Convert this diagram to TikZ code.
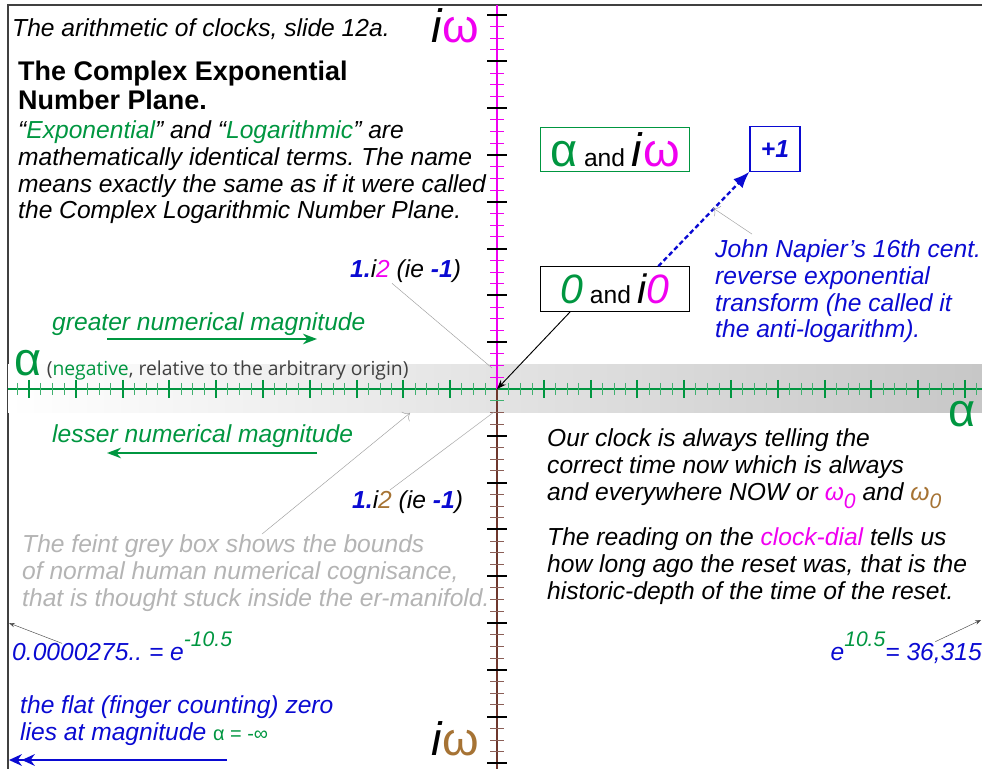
\documentclass[tikz,border=0pt]{standalone}
\usepackage{fontspec}
\setmainfont{Liberation Sans}
\newfontfamily\notefont{Open Sans}
\usepackage{xcolor}
\usepackage{tikz}
\usetikzlibrary{positioning}
\usetikzlibrary{arrows.meta}

\definecolor{clkgreen}{RGB}{0,150,64}
\definecolor{clkmagenta}{RGB}{240,0,240}
\definecolor{clkbrown}{RGB}{166,115,52}
\definecolor{axisbrown}{RGB}{110,55,45}
\definecolor{clkblue}{RGB}{10,10,210}
\definecolor{feintgrey}{RGB}{180,180,180}
\definecolor{notegrey}{RGB}{64,64,64}

\newcommand{\slidefont}{\fontsize{21}{23}\selectfont}
\newcommand{\titlefont}{\fontsize{23}{25.6}\selectfont\bfseries}
\newcommand{\bigfont}{\fontsize{40}{40}\selectfont}
\newcommand{\midfont}{\fontsize{35}{35}\selectfont}
\newcommand{\expfont}{\fontsize{18}{18}\selectfont}

\frenchspacing
\begin{document}
\begin{tikzpicture}[
    x=0.03cm, y=-0.03cm,
    every node/.style={inner sep=0pt},
    slidetext/.style={font=\slidefont\itshape, align=left, anchor=base west},
    pointer/.style={draw=gray!75, line width=0.4pt},
    minortick/.style={line width=0.8pt},
    majortick/.style={line width=1.6pt},
    boxed/.style={draw, line width=1pt, font=\slidefont, minimum height=1.33cm, minimum width=4.45cm},
    bigsym/.style={font=\bigfont, anchor=base west}
]
    \useasboundingbox (0,0) rectangle (982,769);

    % Frame and grey band
    \draw[line width=1pt, black!75] (982,5) -- (8,5) -- (8,769);
    \shade[left color=white, right color=black!22] (8,365) rectangle (982,413);

    % Axes
    \coordinate (origin) at (497,389);
    \draw[clkgreen, line width=1.6pt] (8,389) -- (982,389);
    \foreach \i in {-41,...,41}
        \draw[minortick, clkgreen!75] ({497+11.7*\i},383) -- ++(0,12);
    \foreach \i in {-40,-36,...,40}
        \draw[majortick, clkgreen] ({497+11.7*\i},380) -- ++(0,18);
    \draw[clkmagenta, line width=1.6pt] (497,5) -- (origin);
    \draw[axisbrown, line width=1.6pt] (origin) -- (497,769);
    \foreach \i in {1,...,32} {
        \draw[minortick, clkmagenta] (490,{389-11.7*\i}) -- ++(14,0);
        \draw[minortick, axisbrown!80] (490,{389+11.7*\i}) -- ++(14,0);
    }
    \foreach \i in {4,8,...,32} {
        \draw[majortick, black] (487,{389-11.7*\i}) -- ++(20,0);
        \draw[majortick, black] (487,{389+11.7*\i}) -- ++(20,0);
    }
    \draw[minortick, clkgreen!75] (490,400.7) -- ++(14,0);

    % Axis labels
    \node[bigsym] (iwtop) at (431,43) {\textit{i}{\color{clkmagenta}ω}};
    \node[bigsym] (iwbottom) at (431,755) {\textit{i}{\color{clkbrown}ω}};
    \node[bigsym, text=clkgreen] (alphaleft) at (14,376) {α};
    \node[font=\notefont\fontsize{16.5}{16.5}\selectfont, text=notegrey, anchor=base west]
        (negnote) at ([xshift=0.15cm]alphaleft.base east)
        {({\color{clkgreen}negative}, relative to the arbitrary origin)};
    \node[bigsym, text=clkgreen] (alpharight) at (948,427) {α};

    % Heading
    \node[slidetext] (slideno) at (12,37) {The arithmetic of clocks, slide 12a.};
    \node[font=\titlefont, align=left, anchor=base west] (title) at (18,110)
        {The Complex Exponential\\Number Plane.};
    \node[slidetext] (namenote) at (18,219) {%
        “{\color{clkgreen}Exponential}” and “{\color{clkgreen}Logarithmic}” are\\
        mathematically identical terms. The name\\
        means exactly the same as if it were called\\
        the Complex Logarithmic Number Plane.};

    % Boxes
    \node[boxed, draw=clkgreen] (alphabox) at (615,149.5)
        {{\bigfont\color{clkgreen}α} and {\bigfont\textit{i}\color{clkmagenta}ω}};
    \node[boxed, draw=clkblue, minimum width=1.5cm] (plusone) at (775,149)
        {\bfseries\itshape\color{clkblue}+1};
    \node[boxed] (zerobox) at (615,289)
        {{\midfont\itshape\color{clkgreen}0} and {\midfont\itshape i\color{clkmagenta}0}};
    \draw[-{Stealth[length=8pt,width=6pt]}, line width=0.8pt] ([xshift=0.9cm]zerobox.south west) -- (origin);
    \draw[-{Latex[length=14pt,width=11pt]}, clkblue, dash pattern=on 4pt off 2.5pt, line width=2pt] ([xshift=1.3cm]zerobox.north) -- (plusone.south west);

    % Napier note
    \node[slidetext, text=clkblue] (napier) at (715,338) {%
        John Napier’s 16th cent.\\
        reverse exponential\\
        transform (he called it\\
        the anti-logarithm).};
    \coordinate (napierhead) at (713,208);
    \draw[pointer, -{To[length=5pt]}] ([xshift=1.11cm,yshift=0.15cm]napier.north west) -- (napierhead);

    % Minus one labels
    \node[slidetext] (minusup) at (350,278)
        {{\bfseries\color{clkblue}1.}i{\color{clkmagenta}2} (ie {\bfseries\color{clkblue}-1})};
    \node[slidetext] (minusdown) at (352,508)
        {{\bfseries\color{clkblue}1.}i{\color{clkbrown}2} (ie {\bfseries\color{clkblue}-1})};
    \coordinate (minusupend) at (492,368);
    \coordinate (minusdownend) at (494,412);
    \draw[pointer] ([xshift=1.26cm]minusup.south west) -- (minusupend);
    \draw[pointer] ([xshift=1.14cm]minusdown.north west) -- (minusdownend);

    % Magnitude arrows
    \node[slidetext, text=clkgreen] (greater) at (52,331) {greater numerical magnitude};
    \coordinate (greatertail) at (107,339);
    \coordinate (greaterhead) at (317,339);
    \draw[-{Stealth[length=12pt,width=9pt]}, clkgreen, line width=1.6pt] (greatertail) -- (greaterhead);
    \node[slidetext, text=clkgreen] (lesser) at (52,442) {lesser numerical magnitude};
    \coordinate (lessertail) at (317,453);
    \coordinate (lesserhead) at (107,453);
    \draw[-{Stealth[length=12pt,width=9pt]}, clkgreen, line width=1.6pt] (lessertail) -- (lesserhead);

    % Clock notes
    \node[slidetext] (clocknote) at (547,500) {%
        Our clock is always telling the\\
        correct time now which is always\\
        and everywhere NOW or {\color{clkmagenta}ω\raisebox{-0.35em}{\expfont 0}}
        and {\color{clkbrown}ω\raisebox{-0.35em}{\expfont 0}}};
    \node[slidetext] (dialnote) at (547,599) {%
        The reading on the {\color{clkmagenta}clock-dial} tells us\\
        how long ago the reset was, that is the\\
        historic-depth of the time of the reset.};

    % Feint box note
    \node[slidetext, text=feintgrey] (feintnote) at (22,606) {%
        The feint grey box shows the bounds\\
        of normal human numerical cognisance,\\
        that is thought stuck inside the er-manifold.};
    \coordinate (feintend) at (410,413);
    \draw[pointer, -{To[length=5pt]}] ([xshift=7.2cm]feintnote.north west) -- (feintend);

    % Limits
    \node[slidetext, text=clkblue] (lowlimit) at (12,660)
        {0.0000275.. = e\raisebox{0.55em}{\expfont\color{clkgreen}-10.5}};
    \coordinate (lowend) at (9,623);
    \draw[pointer, draw=black!70, -{Stealth[length=5pt]}] ([xshift=1.5cm,yshift=0.5cm]lowlimit.base west) -- (lowend);
    \node[slidetext, text=clkblue, anchor=base east] (highlimit) at (982,660)
        {e\raisebox{0.55em}{\expfont\color{clkgreen}10.5}= 36,315};
    \coordinate (highend) at (981,620);
    \draw[pointer, draw=black!70, -{Stealth[length=5pt]}] ([xshift=-1.4cm,yshift=0.55cm]highlimit.base east) -- (highend);

    % Flat zero
    \node[slidetext, text=clkblue] (flatzero) at (20,740) {%
        the flat (finger counting) zero\\
        lies at magnitude {\upshape\fontsize{17}{17}\selectfont\color{clkgreen}α = -∞}};
    \coordinate (flattail) at (227,760);
    \coordinate (flathead) at (9,760);
    \draw[-{Stealth[length=11pt,width=10pt]Stealth[length=11pt,width=10pt]}, clkblue, line width=1.6pt] (flattail) -- (flathead);
\end{tikzpicture}
\end{document}
